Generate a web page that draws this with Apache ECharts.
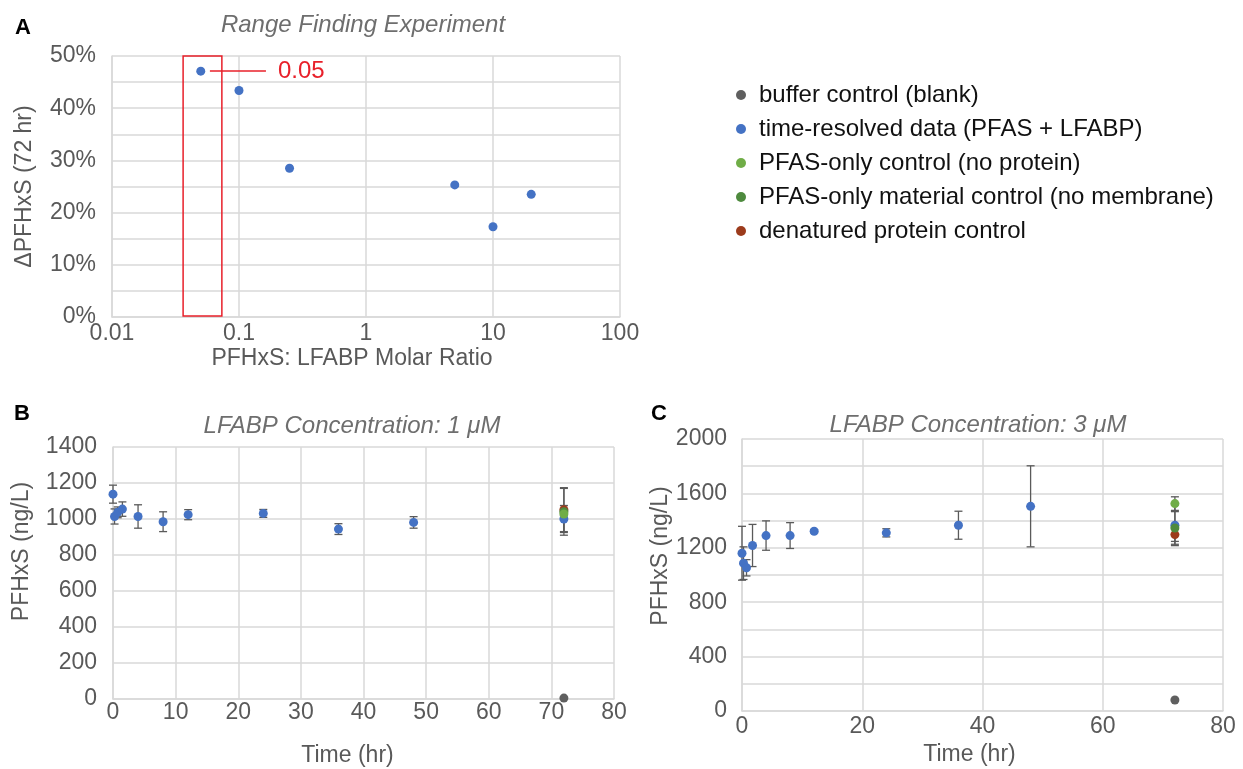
<!DOCTYPE html>
<html><head><meta charset="utf-8">
<script src="https://cdn.jsdelivr.net/npm/echarts@6/dist/echarts.min.js"></script>
<style>html,body{margin:0;padding:0;background:#fff}#chart{width:1243px;height:769px}</style>
</head><body><div id="chart"></div>
<script>
// ---------- Panel A: range finding ----------
const ratioA = [0.05, 0.1, 0.25, 5, 10, 20];
const deltaA = [0.471, 0.434, 0.285, 0.253, 0.173, 0.235];
const ratioTicksA = ['0.01', '0.1', '1', '10', '100'];
const highlightRatio = '0.05';
// ---------- Panel B: LFABP 1 uM ----------
const timesB = [0, 0.25, 0.75, 1.5, 4, 8, 12, 24, 36, 48, 72];
const pfhxsB = [1138, 1014, 1037, 1055, 1014, 985, 1024, 1031, 944, 981, 1000];
const errB   = [50, 42, 30, 40, 65, 55, 28, 22, 30, 32, 75];
// ---------- Panel C: LFABP 3 uM ----------
const timesC = [0, 0.25, 0.75, 1.75, 4, 8, 12, 24, 36, 48, 72];
const pfhxsC = [1160, 1087, 1053, 1217, 1290, 1290, 1322, 1310, 1366, 1505, 1366];
const errC   = [198, 120, 60, 155, 108, 95, 12, 30, 103, 298, 150];
// ---------- Controls (72 h) ----------
const controlTime = 72;
const controlNames = ['buffer control (blank)', 'denatured protein control', 'PFAS-only material control (no membrane)', 'PFAS-only control (no protein)'];
const controlsB    = [5, 1052, 1040, 1028];
const controlsErrB = [0, 122, 130, 10];
const controlsC    = [81, 1297, 1346, 1525];
const controlsErrC = [0, 50, 120, 50];
const timeName = 'time-resolved data (PFAS + LFABP)';
const legendNames = ['buffer control (blank)', 'time-resolved data (PFAS + LFABP)', 'PFAS-only control (no protein)', 'PFAS-only material control (no membrane)', 'denatured protein control'];

const colors = {
  'buffer control (blank)': '#5f5f5f',
  'time-resolved data (PFAS + LFABP)': '#4472C4',
  'PFAS-only control (no protein)': '#70AD47',
  'PFAS-only material control (no membrane)': '#4E8A3E',
  'denatured protein control': '#9C3B1C'
};
const FONT = 'Liberation Sans, Arial, sans-serif';
const GRID = '#d9d9d9';
const TXT = '#595959';

function errRender(params, api) {
  const x = api.value(0), lo = api.value(1), hi = api.value(2);
  const a = api.coord([x, hi]), b = api.coord([x, lo]);
  const h = 4, st = {stroke: '#5a5a5a', lineWidth: 1.3};
  return {type: 'group', children: [
    {type: 'line', shape: {x1: a[0], y1: a[1], x2: b[0], y2: b[1]}, style: st},
    {type: 'line', shape: {x1: a[0] - h, y1: a[1], x2: a[0] + h, y2: a[1]}, style: st},
    {type: 'line', shape: {x1: b[0] - h, y1: b[1], x2: b[0] + h, y2: b[1]}, style: st}
  ]};
}
function errSeries(idx, times, vals, errs, cv, ce) {
  const data = times.map((t, i) => [t, vals[i] - errs[i], vals[i] + errs[i]]);
  cv.forEach((v, i) => { if (ce[i] > 0) data.push([controlTime, v - ce[i], v + ce[i]]); });
  return {type: 'custom', name: 'error bars', xAxisIndex: idx, yAxisIndex: idx, renderItem: errRender,
          data: data, encode: {x: 0, y: [1, 2]}, z: 1, silent: true};
}
function panelSeries(idx, times, vals, errs, cv, ce) {
  const out = [errSeries(idx, times, vals, errs, cv, ce)];
  out.push({type: 'scatter', name: timeName, xAxisIndex: idx, yAxisIndex: idx, symbolSize: 9, z: 2,
            itemStyle: {color: colors[timeName], opacity: 1}, data: times.map((t, i) => [t, vals[i]])});
  cv.forEach((v, i) => out.push({type: 'scatter', name: controlNames[i], xAxisIndex: idx, yAxisIndex: idx,
            symbolSize: 9, z: 3, itemStyle: {color: colors[controlNames[i]], opacity: 1}, data: [[controlTime, v]]}));
  return out;
}

const axisCommon = {
  axisLine: {show: true, lineStyle: {color: GRID, width: 1.5}},
  axisTick: {show: false},
  splitLine: {show: true, lineStyle: {color: GRID, width: 1.5}},
  nameTextStyle: {color: TXT, fontSize: 23, fontFamily: FONT},
  nameLocation: 'middle'
};
function lab(extra) { return Object.assign({color: TXT, fontSize: 23, fontFamily: FONT}, extra); }

const option = {
  animation: false,
  backgroundColor: '#fff',
  grid: [
    {left: 112, top: 56, width: 508, height: 261},
    {left: 113, top: 447, width: 501, height: 252},
    {left: 742, top: 439, width: 481, height: 272}
  ],
  xAxis: [
    Object.assign({}, axisCommon, {gridIndex: 0, type: 'log', logBase: 10, min: 0.01, max: 100,
      name: 'PFHxS: LFABP Molar Ratio', nameGap: 30,
      nameTextStyle: {color: TXT, fontSize: 23, fontFamily: FONT, padding: [0, 28, 0, 0]},
      axisLabel: lab({margin: 5, formatter: v => ratioTicksA[Math.round(Math.log10(v)) + 2]})}),
    Object.assign({}, axisCommon, {gridIndex: 1, type: 'value', min: 0, max: 80, interval: 10,
      name: 'Time (hr)', nameGap: 45,
      nameTextStyle: {color: TXT, fontSize: 23, fontFamily: FONT, padding: [0, 32, 0, 0]},
      axisLabel: lab({margin: 2, formatter: v => String(v)})}),
    Object.assign({}, axisCommon, {gridIndex: 2, type: 'value', min: 0, max: 80, interval: 20,
      name: 'Time (hr)', nameGap: 32,
      nameTextStyle: {color: TXT, fontSize: 23, fontFamily: FONT, padding: [0, 26, 0, 0]},
      axisLabel: lab({margin: 4, formatter: v => String(v)})})
  ],
  yAxis: [
    Object.assign({}, axisCommon, {gridIndex: 0, type: 'value', min: 0, max: 0.5, interval: 0.05,
      name: 'ΔPFHxS (72 hr)', nameGap: 76,
      axisLabel: lab({margin: 16, formatter: v => { const p = Math.round(v * 100); return p % 10 === 0 ? p + '%' : ''; }})}),
    Object.assign({}, axisCommon, {gridIndex: 1, type: 'value', min: 0, max: 1400, interval: 200,
      name: 'PFHxS (ng/L)', nameGap: 80,
      nameTextStyle: {color: TXT, fontSize: 23, fontFamily: FONT, padding: [0, 0, 0, 43]},
      axisLabel: lab({margin: 16, formatter: v => String(Math.round(v))})}),
    Object.assign({}, axisCommon, {gridIndex: 2, type: 'value', min: 0, max: 2000, interval: 200,
      name: 'PFHxS (ng/L)', nameGap: 70,
      nameTextStyle: {color: TXT, fontSize: 23, fontFamily: FONT, padding: [0, 0, 0, 38]},
      axisLabel: lab({margin: 15, formatter: v => (Math.round(v) % 400 === 0 ? String(Math.round(v)) : '')})})
  ],
  legend: {
    orient: 'vertical', left: 736, top: 83, padding: 0, itemGap: 10,
    itemWidth: 26, itemHeight: 10, icon: 'circle',
    data: legendNames,
    textStyle: {color: '#111', fontSize: 24, fontFamily: FONT, lineHeight: 24}
  },
  graphic: [
    {type: 'text', x: 23, y: 28, style: {text: 'A', font: 'bold 22px ' + FONT, fill: '#000', align: 'center', verticalAlign: 'middle'}},
    {type: 'text', x: 22, y: 414, style: {text: 'B', font: 'bold 22px ' + FONT, fill: '#000', align: 'center', verticalAlign: 'middle'}},
    {type: 'text', x: 659, y: 414, style: {text: 'C', font: 'bold 22px ' + FONT, fill: '#000', align: 'center', verticalAlign: 'middle'}},
    {type: 'text', x: 363, y: 25, style: {text: 'Range Finding Experiment', font: 'italic 24px ' + FONT, fill: '#6e6e6e', align: 'center', verticalAlign: 'middle'}},
    {type: 'text', x: 352, y: 426, style: {text: 'LFABP Concentration: 1 μM', font: 'italic 24px ' + FONT, fill: '#6e6e6e', align: 'center', verticalAlign: 'middle'}},
    {type: 'text', x: 978, y: 425, style: {text: 'LFABP Concentration: 3 μM', font: 'italic 24px ' + FONT, fill: '#6e6e6e', align: 'center', verticalAlign: 'middle'}}
  ],
  series: [
    {type: 'scatter', name: 'range finding', xAxisIndex: 0, yAxisIndex: 0, symbolSize: 9, z: 3,
     itemStyle: {color: colors[timeName], opacity: 1},
     data: ratioA.map((r, i) => [r, deltaA[i]]),
     markArea: {silent: true, itemStyle: {color: 'rgba(0,0,0,0)', borderColor: '#E8202A', borderWidth: 1.5},
       data: [[{coord: [0.0363, 0.505]}, {coord: [0.0733, 0.002]}]]},
     markLine: {silent: true, symbol: ['none', 'none'], lineStyle: {color: '#E8202A', width: 1.5, type: 'solid'},
       label: {show: true, position: 'end', formatter: highlightRatio, color: '#E8202A', fontSize: 24, fontFamily: FONT, distance: 12},
       data: [[{coord: [0.059, deltaA[0]]}, {coord: [0.163, deltaA[0]]}]]}
    }
  ].concat(panelSeries(1, timesB, pfhxsB, errB, controlsB, controlsErrB))
   .concat(panelSeries(2, timesC, pfhxsC, errC, controlsC, controlsErrC))
};

const chart = echarts.init(document.getElementById('chart'), null, {renderer: 'canvas'});
chart.setOption(option);
</script>
</body></html>
